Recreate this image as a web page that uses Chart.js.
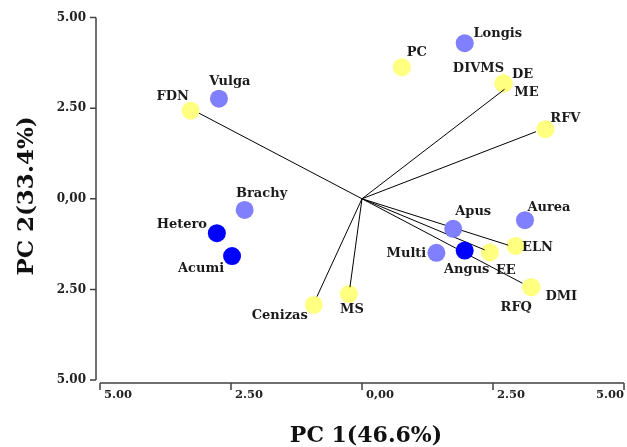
<!DOCTYPE html>
<html>
<head>
<meta charset="utf-8">
<script src="https://cdn.jsdelivr.net/npm/chart.js@4"></script>
<style>
  html, body { margin: 0; padding: 0; background: #fff; }
  canvas { display: block; }
</style>
</head>
<body>
<canvas id="biplot" width="627" height="447"></canvas>
<script>
/* ===== ejes ===== */
const tickValues = [-5, -2.5, 0, 2.5, 5];
const xTickLabels = ["5.00", "2.50", "0,00", "2.50", "5.00"];
const yTickLabels = ["5.00", "2.50", "0,00", "2.50", "5.00"];
const xTitle = "PC 1(46.6%)";
const yTitle = "PC 2(33.4%)";

/* ===== individuos ===== */
const individuals = ["Vulga", "Brachy", "Hetero", "Acumi", "Multi", "Angus", "Apus", "Aurea", "Longis"];
const indPC1 = [-2.73, -2.24, -2.77, -2.48, 1.42, 1.96, 1.74, 3.11, 1.96];
const indPC2 = [2.76, -0.31, -0.95, -1.58, -1.49, -1.43, -0.83, -0.59, 4.29];
const indGroup = ["light", "light", "dark", "dark", "light", "dark", "light", "light", "light"];

/* ===== variables ===== */
const variables = ["FDN", "PC", "DIVMS", "DE", "ME", "RFV", "ELN", "EE", "DMI", "RFQ", "MS", "Cenizas"];
const varPC1 = [-3.27, 0.76, 2.70, 2.70, 2.70, 3.50, 2.93, 2.44, 3.23, 3.23, -0.25, -0.92];
const varPC2 = [2.43, 3.63, 3.18, 3.18, 3.18, 1.92, -1.30, -1.48, -2.44, -2.44, -2.63, -2.93];

/* ===== vectores ===== */
const vectorNames = ["FDN", "DE", "RFV", "ELN", "EE", "DMI", "MS", "Cenizas"];
const vecPC1 = [-3.11, 2.72, 3.32, 2.79, 2.34, 3.06, -0.23, -0.86];
const vecPC2 = [2.36, 3.02, 1.85, -1.28, -1.41, -2.33, -2.44, -2.70];

/* posicion de etiquetas (px desde el punto) */
const indLabelOffset = [[11, -17], [17, -16], [-35, -9], [-31, 13], [-30, 1], [2, 19], [20, -17], [24, -13], [33, -10]];
const varLabelOffset = [[-18, -14], [15, -15], [-25, -15], [19, -9], [23, 9], [20, -11], [22, 2], [16, 18], [30, 9], [-15, 20], [3, 16], [-34, 11]];

const colors = { light: "#8080ff", dark: "#0000ff", variable: "#ffff80" };
const FONT = "'DejaVu Serif', serif";

function points(xs, ys, filter){
    const out = [];
    xs.forEach((x, i) => {
        if(!filter || filter(i)) out.push({ x: x, y: ys[i] });
    });
    return out;
}

const datasets = [];

datasets.push({
    label: "light",
    data: points(indPC1, indPC2, i => indGroup[i] === "light"),
    backgroundColor: colors.light,
    borderWidth: 0,
    pointRadius: 9,
    order: 0
});
datasets.push({
    label: "dark",
    data: points(indPC1, indPC2, i => indGroup[i] === "dark"),
    backgroundColor: colors.dark,
    borderWidth: 0,
    pointRadius: 9,
    order: 0
});

vectorNames.forEach((name, i) => {
    datasets.push({
        type: "line",
        label: name,
        data: [{ x: 0, y: 0 }, { x: vecPC1[i], y: vecPC2[i] }],
        borderColor: "#000",
        borderWidth: 1,
        pointRadius: 0,
        fill: false,
        order: 1
    });
});

datasets.push({
    label: "variables",
    data: points(varPC1, varPC2),
    backgroundColor: colors.variable,
    borderWidth: 0,
    pointRadius: 9,
    order: 2
});

/* ===== ejes, etiquetas y titulos ===== */
const biplotDecor = {
    id: "biplotDecor",
    afterDraw(chart){
        const c = chart.ctx;
        const xs = chart.scales.x, ys = chart.scales.y;
        const x0 = xs.getPixelForValue(-5), x1 = xs.getPixelForValue(5);
        const yTop = ys.getPixelForValue(5), yBot = ys.getPixelForValue(-5);
        const axisX = x0 - 4, axisY = yBot + 3;

        c.save();
        c.strokeStyle = "#404040";
        c.lineWidth = 1.5;
        c.beginPath();
        c.moveTo(axisX, yTop); c.lineTo(axisX, yBot);
        c.moveTo(x0, axisY); c.lineTo(x1, axisY);
        tickValues.forEach(v => {
            const py = ys.getPixelForValue(v);
            c.moveTo(axisX - 6, py); c.lineTo(axisX, py);
            const px = xs.getPixelForValue(v);
            c.moveTo(px, axisY); c.lineTo(px, axisY + 7);
        });
        c.stroke();

        c.fillStyle = "#222";
        c.textBaseline = "middle";
        c.textAlign = "right";
        c.font = "bold 12px " + FONT;
        tickValues.forEach((v, i) => {
            c.fillText(yTickLabels[i], axisX - 10, ys.getPixelForValue(v));
        });
        c.font = "bold 11.5px " + FONT;
        tickValues.forEach((v, i) => {
            const px = xs.getPixelForValue(v);
            const last = i === tickValues.length - 1;
            c.textAlign = last ? "right" : "left";
            c.fillText(xTickLabels[i], last ? px : px + 4, axisY + 12);
        });

        c.fillStyle = "#111";
        c.textAlign = "center";
        c.font = "bold 22px " + FONT;
        c.fillText(xTitle, 366, 436);
        c.save();
        c.translate(27, 196);
        c.rotate(-Math.PI / 2);
        c.font = "bold 23px " + FONT;
        c.fillText(yTitle, 0, 0);
        c.restore();

        c.fillStyle = "#1a1a1a";
        c.font = "bold 13px " + FONT;
        c.textAlign = "center";
        individuals.forEach((name, i) => {
            const px = xs.getPixelForValue(indPC1[i]) + indLabelOffset[i][0];
            const py = ys.getPixelForValue(indPC2[i]) + indLabelOffset[i][1];
            c.fillText(name, px, py);
        });
        variables.forEach((name, i) => {
            const px = xs.getPixelForValue(varPC1[i]) + varLabelOffset[i][0];
            const py = ys.getPixelForValue(varPC2[i]) + varLabelOffset[i][1];
            c.fillText(name, px, py);
        });
        c.restore();
    }
};

new Chart(document.getElementById("biplot"), {
    type: "scatter",
    data: { datasets: datasets },
    plugins: [biplotDecor],
    options: {
        responsive: false,
        animation: false,
        layout: {
            autoPadding: false,
            padding: { left: 100, right: 3, top: 17.5, bottom: 67 }
        },
        plugins: {
            legend: { display: false },
            tooltip: { enabled: false }
        },
        scales: {
            x: { type: "linear", min: -5, max: 5, display: false },
            y: { type: "linear", min: -5, max: 5, display: false }
        },
        elements: { point: { hoverRadius: 9 } }
    }
});
</script>
</body>
</html>
